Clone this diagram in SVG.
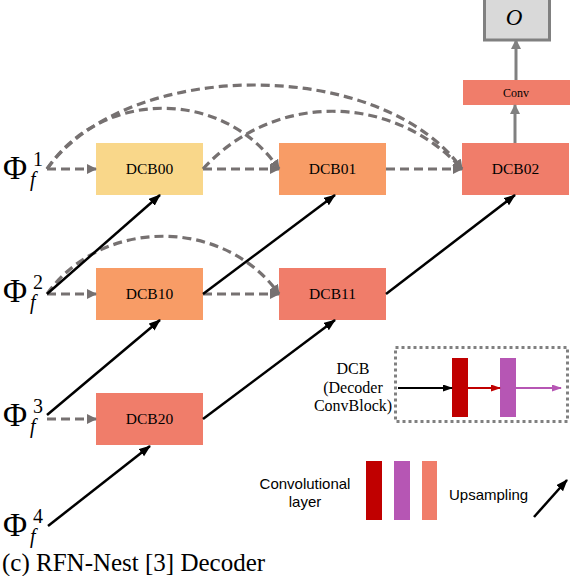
<svg xmlns="http://www.w3.org/2000/svg" width="570" height="576" viewBox="0 0 570 576">
<defs>
<marker id="ag" markerUnits="userSpaceOnUse" markerWidth="12" markerHeight="12" refX="9" refY="5" orient="auto"><path d="M0,0 L10,5 L0,10 z" fill="#767171"/></marker>
<marker id="as" markerUnits="userSpaceOnUse" markerWidth="12" markerHeight="12" refX="9" refY="5" orient="auto"><path d="M0,0 L10,5 L0,10 z" fill="#808080"/></marker>
<marker id="ak" markerUnits="userSpaceOnUse" markerWidth="14" markerHeight="12" refX="11" refY="4.5" orient="auto"><path d="M0,0 L12,4.5 L0,9 z" fill="#000"/></marker>
<marker id="akS" markerUnits="userSpaceOnUse" markerWidth="12" markerHeight="10" refX="9" refY="3.5" orient="auto"><path d="M0,0 L10,3.5 L0,7 z" fill="#000"/></marker>
<marker id="arS" markerUnits="userSpaceOnUse" markerWidth="12" markerHeight="10" refX="9" refY="3.5" orient="auto"><path d="M0,0 L10,3.5 L0,7 z" fill="#C00000"/></marker>
<marker id="apS" markerUnits="userSpaceOnUse" markerWidth="12" markerHeight="10" refX="9" refY="3.5" orient="auto"><path d="M0,0 L10,3.5 L0,7 z" fill="#B656B4"/></marker>
</defs>
<style>
.lbl{font-family:"Liberation Serif",serif;font-size:15.5px;text-anchor:middle;fill:#000}
.phi{font-family:"Liberation Serif",serif;font-size:33px;fill:#000}
.sup{font-family:"Liberation Serif",serif;font-size:20px;fill:#000}
.sub{font-family:"Liberation Serif",serif;font-size:20px;font-style:italic;fill:#000}
.sans{font-family:"Liberation Sans",sans-serif;font-size:15px;fill:#000}
.dash{fill:none;stroke:#767171;stroke-width:3.2;stroke-dasharray:9 5;marker-end:url(#ag)}
.blk{fill:none;stroke:#000;stroke-width:2.5;marker-end:url(#ak)}
.gry{fill:none;stroke:#808080;stroke-width:3;marker-end:url(#as)}
.yel{fill:#F9D78A}
.org{fill:#F89C66}
.sal{fill:#F07D6A}
</style>
<rect x="0" y="0" width="570" height="576" fill="#fff"/>

<g id="output">
<rect x="484.5" y="-5" width="65" height="45" fill="#D9D9D9" stroke="#808080" stroke-width="3"/>
<text x="514" y="25" class="lbl" style="font-size:23px;font-style:italic">O</text>
</g>
<g id="conv">
<rect x="463" y="80" width="107" height="25" class="sal"/>
<text x="516" y="97" class="lbl" style="font-size:12px">Conv</text>
</g>
<g id="dcb00"><rect x="96" y="143" width="107" height="52" class="yel"/><text x="149.5" y="174" class="lbl">DCB00</text></g>
<g id="dcb01"><rect x="279" y="143" width="107" height="52" class="org"/><text x="332.5" y="174" class="lbl">DCB01</text></g>
<g id="dcb02"><rect x="462" y="143" width="107" height="52" class="sal"/><text x="515.5" y="174" class="lbl">DCB02</text></g>
<g id="dcb10"><rect x="96" y="268" width="107" height="52" class="org"/><text x="149.5" y="299" class="lbl">DCB10</text></g>
<g id="dcb11"><rect x="279" y="268" width="107" height="52" class="sal"/><text x="332.5" y="299" class="lbl">DCB11</text></g>
<g id="dcb20"><rect x="96" y="393" width="107" height="52" class="sal"/><text x="149.5" y="424" class="lbl">DCB20</text></g>

<g id="phi1"><text x="3" y="179" class="phi">Φ</text><text x="33" y="166" class="sup">1</text><text x="30" y="186" class="sub">f</text></g>
<g id="phi2"><text x="3" y="302" class="phi">Φ</text><text x="33" y="289" class="sup">2</text><text x="30" y="309" class="sub">f</text></g>
<g id="phi3"><text x="3" y="426" class="phi">Φ</text><text x="33" y="413" class="sup">3</text><text x="30" y="433" class="sub">f</text></g>
<g id="phi4"><text x="3" y="536" class="phi">Φ</text><text x="33" y="523" class="sup">4</text><text x="30" y="543" class="sub">f</text></g>

<g id="connectors">
<path class="dash" d="M47,169 L96,169"/>
<path class="dash" d="M203,169 L279,169"/>
<path class="dash" d="M386,169 L462,169"/>
<path class="dash" d="M47,294 L96,294"/>
<path class="dash" d="M203,294 L279,294"/>
<path class="dash" d="M47,419 L96,419"/>
<path class="dash" d="M47,169 C102,88 224,88 279,169"/>
<path class="dash" d="M47,169 C127,57 382,57 462,169"/>
<path class="dash" d="M203,169 C273,92 392,92 462,169"/>
<path class="dash" d="M47,294 C102,217 224,217 279,294"/>
<path class="blk" d="M47,294 L160,195"/>
<path class="blk" d="M203,294 L335,195"/>
<path class="blk" d="M386,294 L515,195"/>
<path class="blk" d="M47,415 L160,320"/>
<path class="blk" d="M203,419 L335,320"/>
<path class="blk" d="M48,526 L150,446"/>
<path class="gry" d="M515,143 L515,105"/>
<path class="gry" d="M516,80 L516,40"/>
</g>

<g id="dcb-legend">
<rect x="395.5" y="347.5" width="172" height="74" fill="none" stroke="#808080" stroke-width="3" stroke-dasharray="3 3"/>
<text x="353" y="374" class="lbl" style="font-size:16px">DCB</text>
<text x="353" y="393" class="lbl" style="font-size:16px">(Decoder</text>
<text x="353" y="411" class="lbl" style="font-size:16px">ConvBlock)</text>
<rect x="452" y="358" width="16" height="59" fill="#C00000"/>
<rect x="500" y="358" width="16" height="59" fill="#B656B4"/>
<path d="M398,388 L452,388" stroke="#000" stroke-width="2" fill="none" marker-end="url(#akS)"/>
<path d="M468,388 L500,388" stroke="#C00000" stroke-width="2" fill="none" marker-end="url(#arS)"/>
<path d="M516,388 L561,388" stroke="#B656B4" stroke-width="2" fill="none" marker-end="url(#apS)"/>
</g>

<g id="legend">
<text x="305" y="489" class="sans" text-anchor="middle">Convolutional</text>
<text x="305" y="507" class="sans" text-anchor="middle">layer</text>
<rect x="366" y="461" width="16" height="59" fill="#C00000"/>
<rect x="394" y="461" width="16" height="59" fill="#B656B4"/>
<rect x="422" y="461" width="15" height="59" fill="#F07D6A"/>
<text x="449" y="500" class="sans">Upsampling</text>
<path class="blk" d="M534,517 L567,480"/>
</g>

<text x="2" y="571" style="font-family:'Liberation Serif',serif;font-size:25px;fill:#000">(c) RFN-Nest [3] Decoder</text>
</svg>
